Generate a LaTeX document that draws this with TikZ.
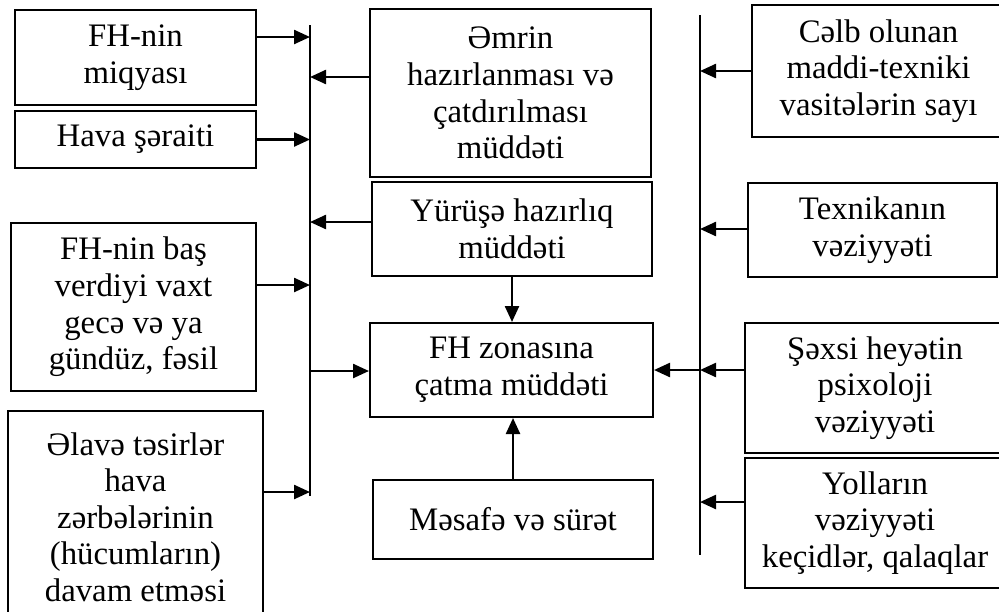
\documentclass[tikz,border=0pt]{standalone}
\usepackage{fontspec}
\setmainfont{Liberation Serif}
\usetikzlibrary{arrows.meta}

\tikzset{
  factor/.style={draw, line width=1pt, align=center, inner sep=0pt,
    font=\fontsize{16.4}{18.3}\selectfont},
  boxsize/.style 2 args={minimum width=#1*0.5pt, minimum height=#2*0.5pt},
  feed/.style={-{Triangle[length=8pt,width=7pt]}, line width=1.2pt},
  bus/.style={line width=0.7pt}
}

\begin{document}
\begin{tikzpicture}[x=0.5pt, y=-0.5pt]

  \useasboundingbox (0,0) rectangle (999,611);
  \clip (0,0) rectangle (999,611);

  % Left column
  \node[factor, boxsize={241}{95}] (miqyas) at (135.5,57.5) {FH-nin\\miqyası};
  \node[factor, boxsize={241}{57}] (hava) at (135.5,139.5) {Hava şəraiti};
  \node[factor, boxsize={245}{168}] (vaxt) at (133.5,307) {FH-nin baş\\verdiyi vaxt\\gecə və ya\\gündüz, fəsil};
  \node[factor, boxsize={255}{212}] (elave) at (135.5,517) {Əlavə təsirlər\\hava\\zərbələrinin\\(hücumların)\\davam etməsi};

  % Middle column
  \node[factor, boxsize={281}{168}] (emr) at (510.5,93) {Əmrin\\hazırlanması və\\çatdırılması\\müddəti};
  \node[factor, boxsize={280}{94}] (yurus) at (512,229) {Yürüşə hazırlıq\\müddəti};
  \node[factor, boxsize={283}{94}] (zona) at (511.5,370) {FH zonasına\\çatma müddəti};
  \node[factor, boxsize={280}{79}] (mesafe) at (513,519.5) {Məsafə və sürət};

  % Right column
  \node[factor, boxsize={253}{132}] (celb) at (878.5,71) {Cəlb olunan\\maddi-texniki\\vasitələrin sayı};
  \node[factor, boxsize={249}{94}] (texnika) at (872.5,230) {Texnikanın\\vəziyyəti};
  \node[factor, boxsize={260}{130}] (sexsi) at (875,388) {Şəxsi heyətin\\psixoloji\\vəziyyəti};
  \node[factor, boxsize={260}{130}] (yollar) at (875,523) {Yolların\\vəziyyəti\\keçidlər, qalaqlar};

  % Left bus
  \coordinate (lbustop) at (310,25);
  \coordinate (lbusbot) at (310,496);
  \draw[bus] (lbustop) -- (lbusbot);
  \coordinate (lmiq) at (310,37);
  \coordinate (lemr) at (310,77);
  \coordinate (lyurus) at (310,222);
  \coordinate (lvaxt) at (310,285);
  \coordinate (lzona) at (310,371);
  \coordinate (lelave) at (310,492);

  \draw[feed] (miqyas.east |- lmiq) -- (lmiq);
  \draw[feed] (hava.east) -- (hava.east -| lmiq);
  \draw[feed] (vaxt.east |- lvaxt) -- (lvaxt);
  \draw[feed] (elave.east |- lelave) -- (lelave);
  \draw[feed] (emr.west |- lemr) -- (lemr);
  \draw[feed] (yurus.west |- lyurus) -- (lyurus);
  \draw[feed] (lzona) -- (zona.west |- lzona);

  % Middle links
  \draw[feed] (yurus.south) -- (yurus.south |- zona.north);
  \draw[feed] (mesafe.north) -- (mesafe.north |- zona.south);

  % Right bus
  \coordinate (rbustop) at (700,15);
  \coordinate (rbusbot) at (700,555);
  \draw[bus] (rbustop) -- (rbusbot);
  \coordinate (rcelb) at (700,71);
  \coordinate (rtex) at (700,229);
  \coordinate (rsexsi) at (700,370);
  \coordinate (ryollar) at (700,502);

  \draw[feed] (celb.west |- rcelb) -- (rcelb);
  \draw[feed] (texnika.west |- rtex) -- (rtex);
  \draw[feed] (sexsi.west |- rsexsi) -- (rsexsi);
  \draw[feed] (yollar.west |- ryollar) -- (ryollar);
  \draw[feed] (rsexsi) -- (zona.east |- rsexsi);

\end{tikzpicture}
\end{document}
